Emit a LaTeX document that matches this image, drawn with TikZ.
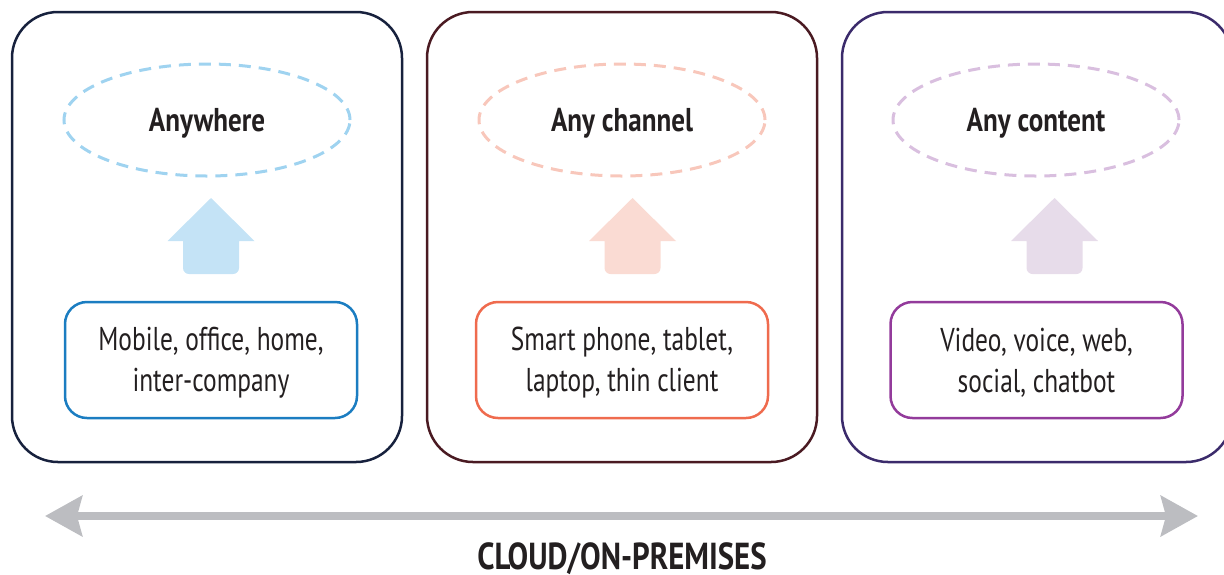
\documentclass[tikz,border=0pt]{standalone}
\usepackage{fontspec}
\setmainfont{PT Sans}[FakeStretch=0.82]
\newfontfamily\itemfont{PT Sans}[FakeStretch=0.77]
\usetikzlibrary{shapes.geometric,arrows.meta}

\definecolor{inktext}{HTML}{231F20}
\definecolor{frameA}{HTML}{17213D}
\definecolor{frameB}{HTML}{4A1A22}
\definecolor{frameC}{HTML}{3B2B6B}
\definecolor{ringA}{HTML}{9FD3F0}
\definecolor{ringB}{HTML}{F8C7BB}
\definecolor{ringC}{HTML}{D9BFDF}
\definecolor{liftA}{HTML}{C4E3F6}
\definecolor{liftB}{HTML}{FADBD3}
\definecolor{liftC}{HTML}{E7DCEA}
\definecolor{itemA}{HTML}{1B7DC1}
\definecolor{itemB}{HTML}{EF6B4E}
\definecolor{itemC}{HTML}{933B9B}
\definecolor{axisgray}{HTML}{BCBDC1}

\tikzset{
  panel/.style={draw=#1, line width=1.25pt, rounded corners=23pt,
    minimum width=195pt, minimum height=225pt, inner sep=0pt},
  goal/.style={ellipse, draw=#1, line width=1.5pt, dash pattern=on 6pt off 4pt,
    minimum width=143pt, minimum height=56pt, inner sep=0pt,
    font=\bfseries\fontsize{16.5}{20}\selectfont, text=inktext,
    text height=11.5pt, text depth=0pt},
  itembox/.style={draw=#1, line width=1.25pt, rounded corners=11pt,
    minimum width=146pt, minimum height=58pt, inner sep=0pt},
  itemtext/.style={align=center, inner sep=0pt,
    font=\itemfont\fontsize{16.5}{20.5}\selectfont, text=inktext},
  pics/blockup/.style={code={
    \fill[#1] (0,0) -- (43.5,43) -- (28,43) [rounded corners=3pt] -- (28,76)
      -- (-28,76) [sharp corners] -- (-28,43) -- (-43.5,43) -- cycle;}},
  axisline/.style={draw=axisgray, line width=4pt,
    {Stealth[length=18.5pt,width=20pt,inset=2.5pt]}-{Stealth[length=18.5pt,width=20pt,inset=2.5pt]}},
  caption/.style={font=\bfseries\fontsize{18.8}{22}\selectfont, text=inktext,
    text height=13pt, text depth=0pt, inner sep=0pt}
}

\begin{document}
\begin{tikzpicture}[x=0.5pt, y=-0.5pt]
  \useasboundingbox (0,0) rectangle (1224,574);

  % three panels
  \node[panel=frameA] (panelA) at (207,237) {};
  \node[panel=frameB] (panelB) at (622,237) {};
  \node[panel=frameC] (panelC) at (1037,237) {};

  % goals
  \node[goal=ringA] (goalA) at (207,120) {Anywhere};
  \node[goal=ringB] (goalB) at (622,120) {Any channel};
  \node[goal=ringC] (goalC) at (1036,120) {Any content};

  % lift arrows
  \pic at (211,198) {blockup=liftA};
  \pic at (632.5,198) {blockup=liftB};
  \pic at (1054.5,198) {blockup=liftC};

  % item boxes and their text
  \node[itembox=itemA] (itemsA) at (211,360) {};
  \node[itembox=itemB] (itemsB) at (622,360) {};
  \node[itembox=itemC] (itemsC) at (1036.5,360) {};
  \node[itemtext] (listA) at ([yshift=-1.2pt]itemsA.center) {Mobile, office, home,\\inter-company};
  \node[itemtext] (listB) at ([yshift=-1.2pt]itemsB.center) {Smart phone, tablet,\\laptop, thin client};
  \node[itemtext] (listC) at ([yshift=-1.2pt]itemsC.center) {Video, voice, web,\\social, chatbot};

  % deployment axis
  \coordinate (axisL) at (45,516);
  \coordinate (axisR) at (1198,516);
  \draw[axisline] (axisL) -- (axisR);
  \node[caption] (deploy) at (622,556) {CLOUD/ON-PREMISES};
\end{tikzpicture}
\end{document}
